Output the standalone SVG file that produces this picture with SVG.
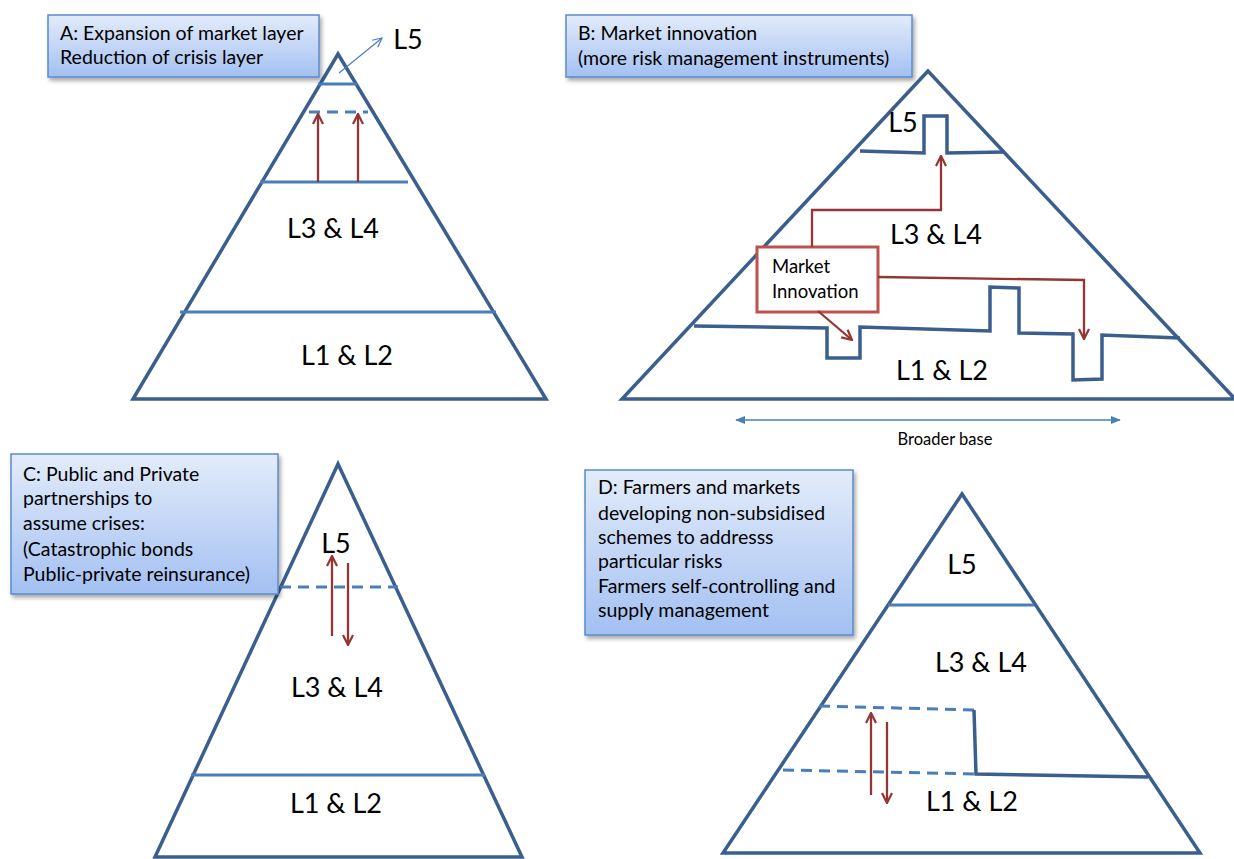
<svg xmlns="http://www.w3.org/2000/svg" width="1234" height="859" viewBox="0 0 1234 859">
<defs>
<linearGradient id="boxGrad" x1="0" y1="0" x2="0" y2="1">
<stop offset="0" stop-color="#E3ECFA"/>
<stop offset="1" stop-color="#A3C0F2"/>
</linearGradient>
<filter id="shadow" x="-10%" y="-10%" width="130%" height="140%">
<feDropShadow dx="2" dy="3" stdDeviation="2" flood-color="#000" flood-opacity="0.35"/>
</filter>
<marker id="redHead" viewBox="0 0 12 12" refX="11" refY="6" markerWidth="12" markerHeight="12" markerUnits="userSpaceOnUse" orient="auto">
<path d="M1,1 L11,6 L1,11" fill="none" stroke="#943634" stroke-width="2.2"/>
</marker>
<marker id="blueHead" viewBox="0 0 12 12" refX="11" refY="6" markerWidth="11" markerHeight="11" markerUnits="userSpaceOnUse" orient="auto">
<path d="M1,1 L11,6 L1,11" fill="none" stroke="#4A7EBB" stroke-width="1.3"/>
</marker>
<marker id="blueFill" viewBox="0 0 12 12" refX="11" refY="6" markerWidth="10" markerHeight="10" markerUnits="userSpaceOnUse" orient="auto-start-reverse">
<path d="M0,1 L12,6 L0,11 Z" fill="#4A7EBB"/>
</marker>
</defs>
<style>
.tri{fill:none;stroke:#3A5F8E;stroke-width:3.5;stroke-linejoin:miter}
.lay{fill:none;stroke:#4A7EBB;stroke-width:3}
.dash{fill:none;stroke:#4A7EBB;stroke-width:3;stroke-dasharray:11,7}
.bnd{fill:none;stroke:#3A5F8E;stroke-width:3.5;stroke-linejoin:miter}
.red{fill:none;stroke:#943634;stroke-width:2.3;marker-end:url(#redHead)}
.box{fill:url(#boxGrad);stroke:#5B8BCB;stroke-width:1.5;filter:url(#shadow)}
.bt{font-family:Lato,"Liberation Sans",sans-serif;font-size:19.5px;fill:#000}
.mi{font-family:Lato,"Liberation Sans",sans-serif;font-size:18.5px;fill:#000}
.lbl{font-family:Lato,"Liberation Sans",sans-serif;font-size:27px;fill:#000;text-anchor:middle}
.small{font-family:Lato,"Liberation Sans",sans-serif;font-size:16.5px;fill:#000;text-anchor:middle}
</style>
<rect width="1234" height="859" fill="#fff"/>

<!-- Panel A -->
<g id="panelA">
<polygon class="tri" points="338,54 133,399 546,399"/>
<line class="lay" x1="318" y1="84" x2="357" y2="84"/>
<line class="dash" x1="309" y1="112" x2="368" y2="112"/>
<line class="lay" x1="260" y1="182" x2="408" y2="182"/>
<line class="lay" x1="180" y1="312" x2="496" y2="312"/>
<text class="lbl" x="408" y="49">L5</text>
<text class="lbl" x="333" y="238">L3 &amp; L4</text>
<text class="lbl" x="347" y="365">L1 &amp; L2</text>
</g>
<g id="boxA">
<rect class="box" x="48" y="15" width="271" height="62"/>
<text class="bt" x="60" y="40">A: Expansion of market layer</text>
<text class="bt" x="60" y="64">Reduction of crisis layer</text>
</g>

<!-- Panel B -->
<g id="panelB">
<polygon class="tri" points="928,71 622,399 1235,399"/>
<polyline class="bnd" points="860,151 924,153 924,116 947,116 947,153 1005,152"/>
<polyline class="bnd" points="694,326 827,328 827,358 860,358 860,327 990,331 990,287 1019,288 1019,333 1073,334 1073,380 1102,379 1102,335 1180,338"/>
<text class="lbl" x="903" y="132">L5</text>
<text class="lbl" x="936" y="244">L3 &amp; L4</text>
<text class="lbl" x="942" y="380">L1 &amp; L2</text>
</g>
<g id="marketInnovation">
<rect x="757" y="247" width="121" height="65" fill="#fff" stroke="#C0504D" stroke-width="3"/>
<text class="mi" x="772" y="273">Market</text>
<text class="mi" x="772" y="298">Innovation</text>
</g>
<g id="boxB">
<rect class="box" x="566" y="15" width="346" height="62"/>
<text class="bt" x="578" y="40">B: Market innovation</text>
<text class="bt" x="578" y="65">(more risk management instruments)</text>
</g>
<g id="broaderBase">
<line x1="736" y1="420" x2="1120" y2="420" stroke="#4A7EBB" stroke-width="1.3" marker-start="url(#blueFill)" marker-end="url(#blueFill)"/>
<text class="small" x="945" y="445">Broader base</text>
</g>

<!-- Panel C -->
<g id="panelC">
<polygon class="tri" points="338,464 155,857 522,857"/>
<line class="dash" x1="280" y1="587" x2="398" y2="587"/>
<line class="lay" x1="191" y1="775" x2="485" y2="775"/>
<text class="lbl" x="336" y="553">L5</text>
<text class="lbl" x="337" y="697">L3 &amp; L4</text>
<text class="lbl" x="336" y="813">L1 &amp; L2</text>
</g>
<g id="boxC">
<rect class="box" x="11" y="454" width="267" height="140"/>
<text class="bt" x="23" y="481">C: Public and Private</text>
<text class="bt" x="23" y="505">partnerships to</text>
<text class="bt" x="23" y="530">assume crises:</text>
<text class="bt" x="23" y="556">(Catastrophic bonds</text>
<text class="bt" x="23" y="581">Public-private reinsurance)</text>
</g>

<!-- Panel D -->
<g id="panelD">
<polygon class="tri" points="962,494 723,853 1200,853"/>
<line class="lay" x1="888" y1="605" x2="1034" y2="605"/>
<line class="dash" x1="819" y1="706" x2="974" y2="710"/>
<line class="dash" x1="783" y1="770" x2="976" y2="774"/>
<polyline class="bnd" points="974,710 976,774 1148,777"/>
<text class="lbl" x="962" y="574">L5</text>
<text class="lbl" x="981" y="672">L3 &amp; L4</text>
<text class="lbl" x="972" y="811">L1 &amp; L2</text>
</g>
<g id="boxD">
<rect class="box" x="585" y="470" width="268" height="165"/>
<text class="bt" x="598" y="494">D: Farmers and markets</text>
<text class="bt" x="598" y="520">developing non-subsidised</text>
<text class="bt" x="598" y="544">schemes to addresss</text>
<text class="bt" x="598" y="568">particular risks</text>
<text class="bt" x="598" y="593">Farmers self-controlling and</text>
<text class="bt" x="598" y="617">supply management</text>
</g>

<!-- Connectors -->
<g id="connectors">
<line x1="339" y1="73" x2="382" y2="38" stroke="#4A7EBB" stroke-width="1.2" marker-end="url(#blueHead)"/>
<line class="red" x1="318" y1="182" x2="318" y2="114"/>
<line class="red" x1="358" y1="182" x2="358" y2="114"/>
<polyline class="red" points="812,247 812,210 941,210 941,156"/>
<polyline class="red" points="878,277 1084,280 1084,339"/>
<line class="red" x1="818" y1="311" x2="852" y2="340"/>
<line class="red" x1="332" y1="636" x2="332" y2="556"/>
<line class="red" x1="348" y1="563" x2="348" y2="645"/>
<line class="red" x1="871" y1="795" x2="871" y2="713"/>
<line class="red" x1="887" y1="722" x2="887" y2="803"/>
</g>
</svg>
